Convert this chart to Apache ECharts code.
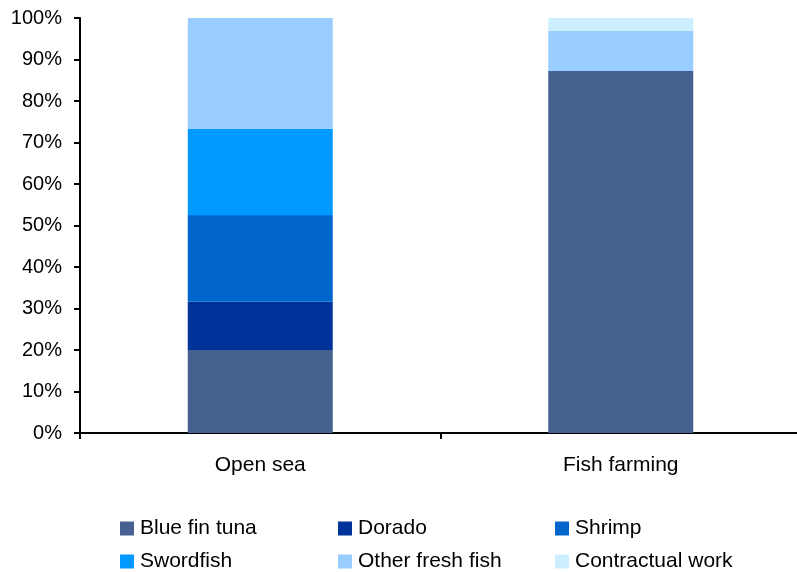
<!DOCTYPE html>
<html>
<head>
<meta charset="utf-8">
<script src="https://cdn.jsdelivr.net/npm/echarts@6/dist/echarts.min.js"></script>
<style>html,body{margin:0;padding:0;background:#fff;overflow:hidden}#c{width:801px;height:572px}</style>
</head>
<body>
<div id="c"></div>
<script>
const categories = ['Open sea', 'Fish farming'];
const seriesNames = ['Blue fin tuna', 'Dorado', 'Shrimp', 'Swordfish', 'Other fresh fish', 'Contractual work'];
const blueFinTuna = [20.0, 87.2];
const dorado = [11.6, 0];
const shrimp = [20.9, 0];
const swordfish = [20.8, 0];
const otherFreshFish = [26.7, 9.7];
const contractualWork = [0, 3.1];
const yTicks = [0, 10, 20, 30, 40, 50, 60, 70, 80, 90, 100];

const colors = ['#46618f', '#003399', '#0066cc', '#0099ff', '#99ccff', '#cceeff'];
const values = [blueFinTuna, dorado, shrimp, swordfish, otherFreshFish, contractualWork];
const font = 'Liberation Sans, Arial, Helvetica, sans-serif';

const legendPos = [
  [120, 518], [338, 518], [555, 518],
  [120, 551], [338, 551], [555, 551]
];

const chart = echarts.init(document.getElementById('c'), null, {renderer: 'canvas'});
chart.setOption({
  animation: false,
  backgroundColor: '#fff',
  grid: {left: 80, right: 0, top: 18, bottom: 139, containLabel: false},
  legend: seriesNames.map((n, i) => ({
    data: [n],
    left: legendPos[i][0],
    top: legendPos[i][1],
    icon: 'rect',
    itemWidth: 14,
    itemHeight: 14,
    itemGap: 0,
    padding: 0,
    textStyle: {fontFamily: font, fontSize: 21, color: '#000', padding: [0, 0, 0, 1]}
  })),
  xAxis: {
    type: 'category',
    data: categories,
    boundaryGap: true,
    axisLine: {lineStyle: {color: '#000', width: 2}},
    axisTick: {show: true, alignWithLabel: false, length: 6, lineStyle: {color: '#000', width: 2}},
    axisLabel: {fontFamily: font, fontSize: 21, color: '#000', margin: 22}
  },
  yAxis: {
    type: 'value',
    min: yTicks[0],
    max: yTicks[yTicks.length - 1],
    interval: 10,
    splitLine: {show: false},
    axisLine: {show: true, lineStyle: {color: '#000', width: 2}},
    axisTick: {show: true, length: 6, lineStyle: {color: '#000', width: 2}},
    axisLabel: {fontFamily: font, fontSize: 20, color: '#000', margin: 18, formatter: '{value}%'}
  },
  series: seriesNames.map((n, i) => ({
    name: n,
    type: 'bar',
    stack: 'total',
    barWidth: 145,
    data: values[i],
    itemStyle: {color: colors[i]}
  }))
});
</script>
</body>
</html>
